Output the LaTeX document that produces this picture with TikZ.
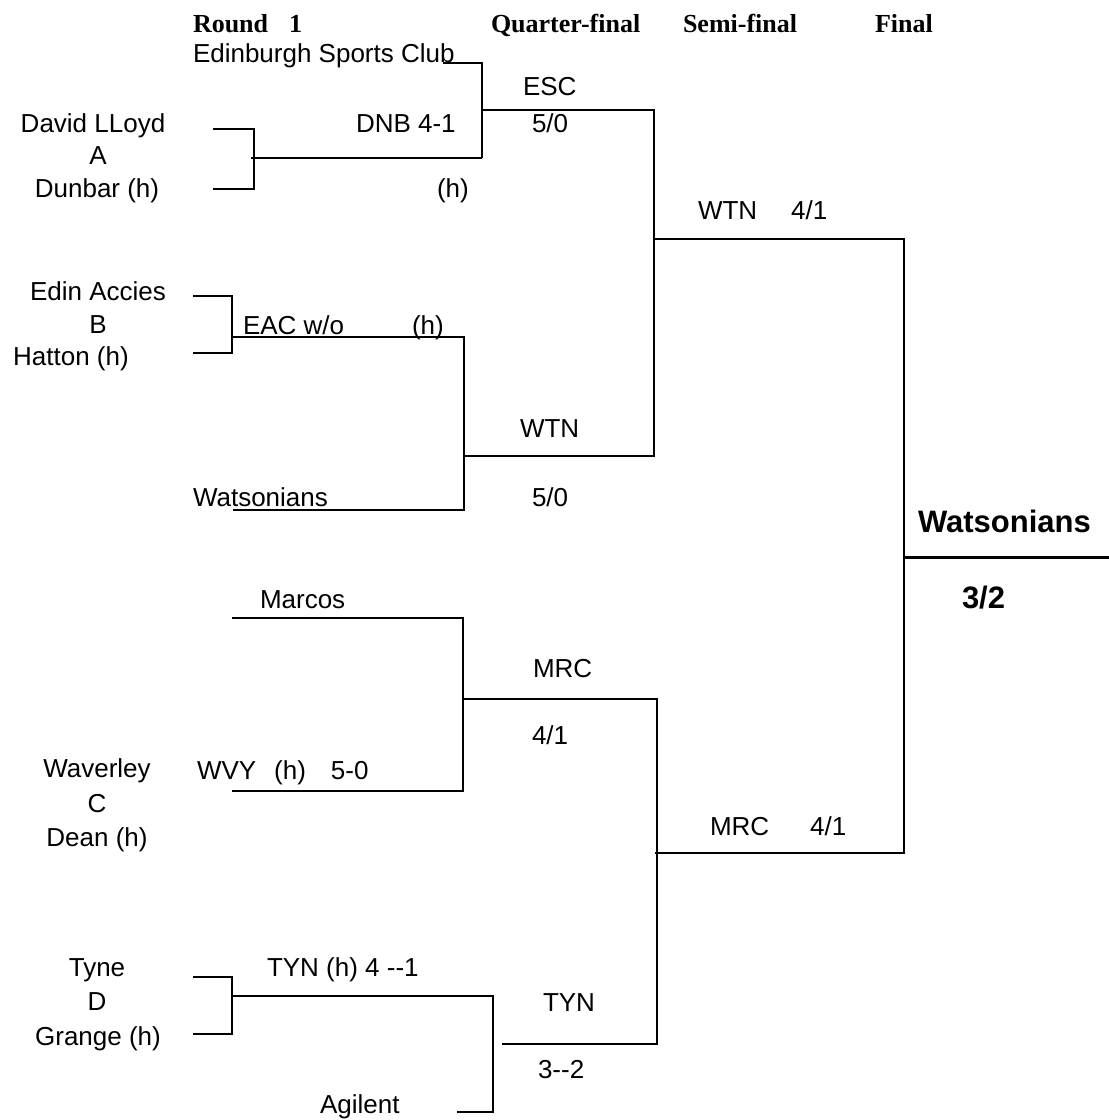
\documentclass[tikz,border=0pt]{standalone}
\usepackage{fontspec}
\setmainfont{Liberation Sans}
\newfontfamily\headfont{Liberation Serif}

\tikzset{
  txt/.style={inner sep=0pt, outer sep=0pt, font=\fontsize{13}{15}\selectfont, anchor=base west},
  ctxt/.style={txt, anchor=base},
  hdr/.style={txt, font=\headfont\bfseries\fontsize{13}{15}\selectfont},
  win/.style={txt, font=\bfseries\fontsize{15.5}{18}\selectfont},
  bline/.style={line width=0.9pt},
}

\begin{document}
\begin{tikzpicture}[x=0.5pt, y=-0.5pt]
    \useasboundingbox (0,0) rectangle (1109,1120);

    % headings
    \node[hdr] (hRound) at (193,32) {Round\hspace{10.5pt}1};
    \node[hdr] (hQuarter) at (491,32) {Quarter-final};
    \node[hdr] (hSemi) at (683,32) {Semi-final};
    \node[hdr] (hFinal) at (875,32) {Final};

    % round 1
    \node[txt] (esc) at (193,62) {Edinburgh Sports Club};
    \node[ctxt] (david) at (93,132) {David LLoyd};
    \node[ctxt] (grpA) at (98,164) {A};
    \node[ctxt] (dunbar) at (97,197) {Dunbar (h)};
    \node[txt] (dnb) at (356,132) {DNB 4-1};
    \node[txt] (dnbH) at (437,197) {(h)};
    \node[ctxt] (accies) at (98,300) {Edin Accies};
    \node[ctxt] (grpB) at (98,333) {B};
    \node[ctxt] (hatton) at (71,365) {Hatton (h)};
    \node[txt] (eac) at (243,334) {EAC w/o};
    \node[txt] (eacH) at (412,334) {(h)};
    \node[txt] (wat) at (193,506) {Watsonians};
    \node[txt] (marcos) at (260,608) {Marcos};
    \node[ctxt] (waverley) at (97,777) {Waverley};
    \node[ctxt] (grpC) at (97,812) {C};
    \node[ctxt] (dean) at (97,846) {Dean (h)};
    \node[txt] (wvy) at (197,779) {WVY\hspace{9pt}(h)\hspace{12.5pt}5-0};
    \node[ctxt] (tyne) at (97,976) {Tyne};
    \node[ctxt] (grpD) at (97,1010) {D};
    \node[ctxt] (grange) at (98,1045) {Grange (h)};
    \node[txt] (tyn) at (267,976) {TYN (h) 4 -{}-1};
    \node[txt] (agilent) at (320,1113) {Agilent};

    % quarter-final
    \node[txt] (qfEsc) at (523,95) {ESC};
    \node[txt] (qfEscS) at (532,132) {5/0};
    \node[txt] (qfWtn) at (520,437) {WTN};
    \node[txt] (qfWtnS) at (532,506) {5/0};
    \node[txt] (qfMrc) at (533,677) {MRC};
    \node[txt] (qfMrcS) at (532,744) {4/1};
    \node[txt] (qfTyn) at (543,1011) {TYN};
    \node[txt] (qfTynS) at (538,1078) {3-{}-2};

    % semi-final
    \node[txt] (sfWtn) at (698,219) {WTN\hspace{17pt}4/1};
    \node[txt] (sfMrc) at (710,835) {MRC\hspace{20.5pt}4/1};

    % final
    \node[win] (champ) at (918,532) {Watsonians};
    \node[win] (champS) at (962,608) {3/2};

    % bracket lines
    \draw[bline] (443,63) -| (482,158);
    \draw[bline] (213,129) -| (254,189) -- (213,189);
    \draw[bline] (251,158) -- (482,158);
    \draw[bline] (482,110) -| (654,456) -- (464,456);
    \draw[bline] (654,239) -| (904,853) -- (655,853);
    \draw[bline] (193,296) -| (232,353) -- (193,353);
    \draw[bline] (233,337) -| (464,510) -- (233,510);
    \draw[line width=1.5pt] (904,557) -- (1109,557);
    \draw[bline] (232,618) -| (463,791) -- (232,791);
    \draw[bline] (463,699) -| (657,1044) -- (502,1044);
    \draw[bline] (193,977) -| (232,1034) -- (193,1034);
    \draw[bline] (232,996) -| (493,1112) -- (457,1112);
\end{tikzpicture}
\end{document}
